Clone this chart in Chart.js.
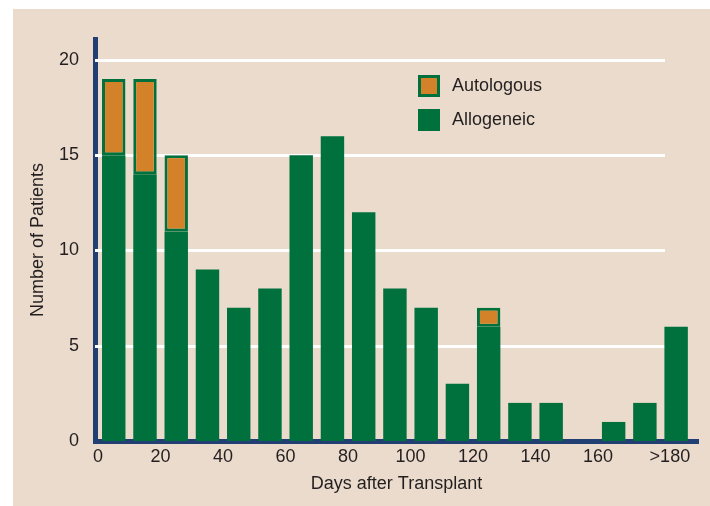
<!DOCTYPE html>
<html>
<head>
<meta charset="utf-8">
<script src="https://cdn.jsdelivr.net/npm/chart.js@4/dist/chart.umd.min.js"></script>
<style>
    html, body { margin: 0; padding: 0; background: #ffffff; }
    #panel { position: absolute; left: 13px; top: 9px; width: 697px; height: 497px; background: #eadbcc; }
    canvas { display: block; }
</style>
</head>
<body>
<div id="panel"><canvas id="transplant-chart" width="697" height="497"></canvas></div>
<script>
// start day of each 10-day bin, last one is >180
var binStarts = [0, 10, 20, 30, 40, 50, 60, 70, 80, 90, 100, 110, 120, 130, 140, 150, 160, 170, 180];
var allogeneic = [15, 14, 11, 9, 7, 8, 15, 16, 12, 8, 7, 3, 6, 2, 2, 0, 1, 2, 6];
var autologous = [4, 5, 4, null, null, null, null, null, null, null, null, null, 1, null, null, null, null, null, null];

var xTickValues = [0, 20, 40, 60, 80, 100, 120, 140, 160, 183];
var xTickLabels = ['0', '20', '40', '60', '80', '100', '120', '140', '160', '>180'];
var yTickValues = [0, 5, 10, 15, 20];
var gridValues = [5, 10, 15, 20];

var GREEN = '#00703c';
var ORANGE = '#d4822a';
var BLUE = '#213f73';
var TEXT = '#231f20';
var FONT = { family: '"Liberation Sans", Arial, sans-serif', size: 18 };

function toPoints(values) {
    return values.map(function(v, i) {
        return { x: binStarts[i] + 5, y: v };
    });
}

// white horizontal lines, behind the bars, stopping short of the right end
var gridPlugin = {
    id: 'whiteGrid',
    beforeDatasetsDraw: function(chart) {
        var ctx = chart.ctx;
        var area = chart.chartArea;
        var y = chart.scales.y;
        ctx.save();
        ctx.strokeStyle = '#ffffff';
        ctx.lineWidth = 3;
        gridValues.forEach(function(v) {
            var py = Math.round(y.getPixelForValue(v)) + 0.5;
            ctx.beginPath();
            ctx.moveTo(area.left, py);
            ctx.lineTo(area.right - 33, py);
            ctx.stroke();
        });
        ctx.restore();
    }
};

var legendPlugin = {
    id: 'boxLegend',
    afterDraw: function(chart) {
        var ctx = chart.ctx;
        var left = chart.chartArea.left + 323;
        var top = 66;
        var items = [chart.data.datasets[1], chart.data.datasets[0]];
        ctx.save();
        ctx.font = FONT.size + 'px ' + FONT.family;
        ctx.textBaseline = 'middle';
        ctx.textAlign = 'left';
        items.forEach(function(ds, i) {
            var by = top + i * 34;
            ctx.fillStyle = GREEN;
            ctx.fillRect(left, by, 22, 22);
            if (ds.backgroundColor !== GREEN) {
                ctx.fillStyle = ds.backgroundColor;
                ctx.fillRect(left + 3, by + 3, 16, 16);
            }
            ctx.fillStyle = TEXT;
            ctx.fillText(ds.label, left + 34, by + 11);
        });
        ctx.restore();
    }
};

var chart = new Chart(document.getElementById('transplant-chart'), {
    type: 'bar',
    data: {
        datasets: [
            {
                label: 'Allogeneic',
                data: toPoints(allogeneic),
                backgroundColor: GREEN,
                borderWidth: 0,
                barPercentage: 0.75,
                categoryPercentage: 1
            },
            {
                label: 'Autologous',
                data: toPoints(autologous),
                backgroundColor: ORANGE,
                borderColor: GREEN,
                borderWidth: 3,
                borderSkipped: false,
                barPercentage: 0.75,
                categoryPercentage: 1
            }
        ]
    },
    options: {
        responsive: false,
        animation: false,
        layout: { padding: { top: 30, right: 12, left: 0, bottom: 0 } },
        plugins: {
            legend: { display: false },
            tooltip: { enabled: false }
        },
        scales: {
            x: {
                type: 'linear',
                offset: false,
                min: -1,
                max: 192,
                stacked: true,
                z: 1,
                grid: { display: false, drawTicks: false, offset: false },
                border: { display: true, color: BLUE, width: 5 },
                afterBuildTicks: function(scale) {
                    scale.ticks = xTickValues.map(function(v) { return { value: v }; });
                },
                ticks: {
                    autoSkip: false,
                    maxRotation: 0,
                    padding: 5,
                    color: TEXT,
                    font: FONT,
                    callback: function(value, index) { return xTickLabels[index]; }
                },
                title: {
                    display: true,
                    text: 'Days after Transplant',
                    color: TEXT,
                    font: FONT,
                    padding: { top: 0, bottom: 11 }
                },
                afterFit: function(scale) { scale.height = 65; }
            },
            y: {
                min: 0,
                max: 21.1,
                stacked: true,
                z: 1,
                grid: { display: false, drawTicks: false },
                border: { display: true, color: BLUE, width: 5 },
                afterBuildTicks: function(scale) {
                    scale.ticks = yTickValues.map(function(v) { return { value: v }; });
                },
                ticks: {
                    padding: 16,
                    color: TEXT,
                    font: FONT
                },
                title: {
                    display: true,
                    text: 'Number of Patients',
                    color: TEXT,
                    font: FONT,
                    padding: { top: 14, bottom: 0 }
                },
                afterFit: function(scale) { scale.width = 82; }
            }
        }
    },
    plugins: [gridPlugin, legendPlugin]
});
</script>
</body>
</html>
